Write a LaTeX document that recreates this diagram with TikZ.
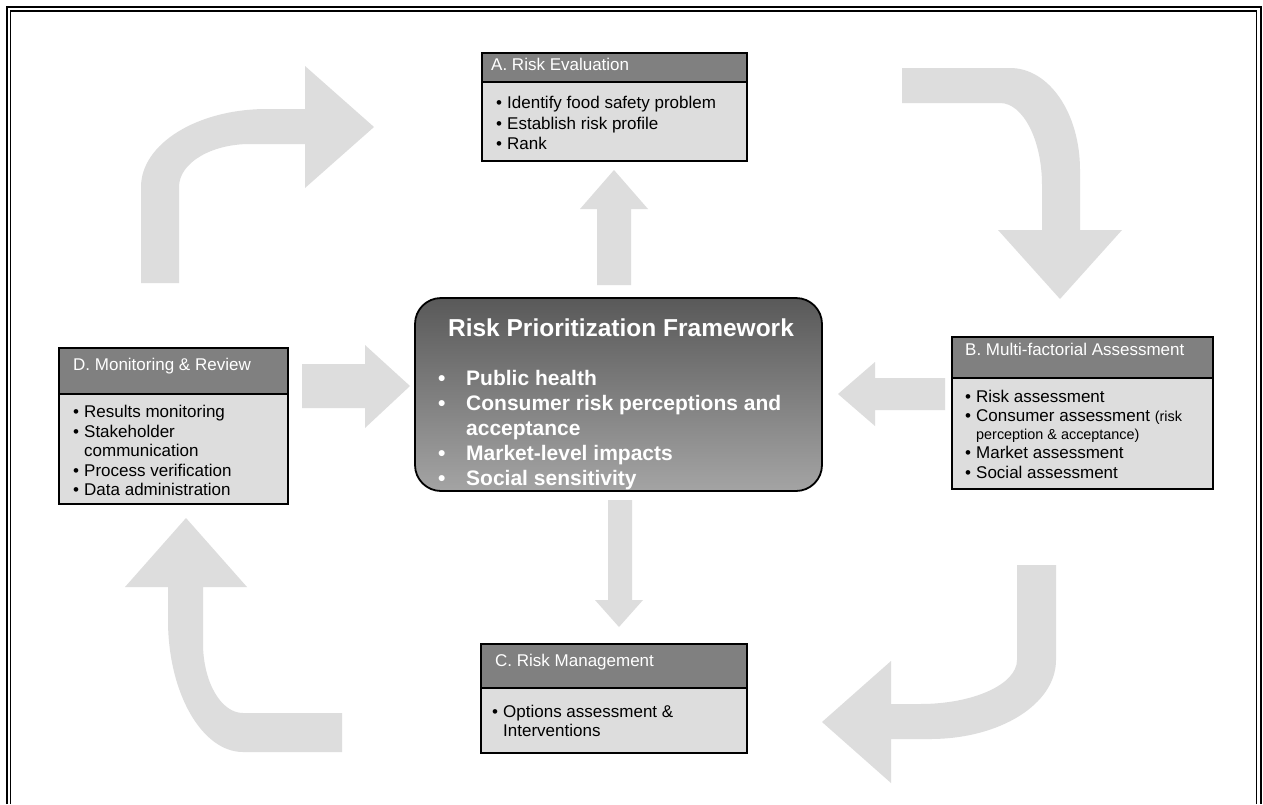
\documentclass[tikz,border=0pt]{standalone}
\usepackage{fontspec}
\setmainfont{Liberation Sans}
\definecolor{arrowgray}{HTML}{DDDDDD}
\definecolor{bodygray}{HTML}{DDDDDD}
\definecolor{titlegray}{HTML}{808080}
\definecolor{topshade}{HTML}{595959}
\definecolor{botshade}{HTML}{A4A4A4}
\begin{document}
\begin{tikzpicture}[x=1pt,y=-1pt,
  blockarrow/.style={fill=arrowgray, draw=none},
  bodybox/.style={fill=bodygray, draw=black, line width=1.6pt, inner sep=0pt, anchor=north west},
  titlebar/.style={fill=titlegray, draw=black, line width=1.6pt, inner sep=0pt, anchor=north west},
  ttl/.style={anchor=base west, inner sep=0pt, text=white, font=\fontsize{17}{20}\selectfont},
  itm/.style={anchor=base west, inner sep=0pt, font=\fontsize{17}{20}\selectfont},
  citm/.style={anchor=base west, inner sep=0pt, text=white, font=\bfseries\fontsize{21}{25}\selectfont},
]
\useasboundingbox (0,0) rectangle (1263,804);
\fill[white] (0,0) rectangle (1263,804);

% page frame
\draw[line width=2pt] (6.8,804) -- (6.8,7.3) -- (1260.5,7.3) -- (1260.5,804);
\draw[line width=1.1pt] (10.2,804) -- (10.2,11) -- (1256.8,11) -- (1256.8,804);

% curved block arrows
\path[blockarrow] (141,283) -- (141,187)
  .. controls (141,144) and (197,109) .. (267,109)
  -- (305,109) -- (305,66) -- (374,127) -- (305,188) -- (305,144) -- (250,144)
  .. controls (211,144) and (179,163) .. (179,187)
  -- (179,283) -- cycle;

\path[blockarrow] (902,68) -- (1010,68)
  .. controls (1049,68) and (1080,113) .. (1080,170)
  -- (1080,230) -- (1122,230) -- (1060,299) -- (998,230) -- (1042,230) -- (1042,185)
  .. controls (1042,140) and (1023,103) .. (1000,103)
  -- (902,103) -- cycle;

\path[blockarrow] (1017,565) -- (1056,565) -- (1056,660)
  .. controls (1056,704) and (1000,739) .. (930,739)
  -- (891,739) -- (891,783) -- (822,722) -- (891,661) -- (891,704) -- (920,704)
  .. controls (974,704) and (1017,684) .. (1017,660)
  -- cycle;

\path[blockarrow] (168,587) -- (168,620)
  .. controls (168,693) and (202,752) .. (243,752)
  -- (342,752) -- (342,713) -- (243,713)
  .. controls (221,713) and (203,682) .. (203,643)
  -- (203,587) -- (247,587) -- (186,518) -- (125,587) -- cycle;

% straight block arrows
\path[blockarrow] (597,285) -- (597,209) -- (580,209) -- (614,170) -- (648,209) -- (631,209) -- (631,285) -- cycle;
\path[blockarrow] (608,500) -- (632,500) -- (632,600) -- (643,600) -- (619,627) -- (595,600) -- (608,600) -- cycle;
\path[blockarrow] (945,378) -- (875,378) -- (875,362) -- (838,394) -- (875,426) -- (875,410) -- (945,410) -- cycle;
\path[blockarrow] (302,364) -- (365,364) -- (365,345) -- (410,386) -- (365,428) -- (365,408) -- (302,408) -- cycle;

% A box
\node[bodybox, minimum width=265pt, minimum height=108pt] (boxA) at (481,52) {};
\node[titlebar, minimum width=265pt, minimum height=29pt] (boxAt) at (481,52) {};
\node[ttl] (tA) at (491,70) {A. Risk Evaluation};
\node[itm] (a1) at (496,108) {\makebox[11pt][l]{•}Identify food safety problem};
\node[itm] (a2) at (496,129) {\makebox[11pt][l]{•}Establish risk profile};
\node[itm] (a3) at (496,149) {\makebox[11pt][l]{•}Rank};

% B box
\node[bodybox, minimum width=261pt, minimum height=152pt] (boxB) at (951,336) {};
\node[titlebar, minimum width=261pt, minimum height=41pt] (boxBt) at (951,336) {};
\node[ttl] (tB) at (965,355) {B. Multi-factorial Assessment};
\node[itm] (b1) at (965,402) {\makebox[11pt][l]{•}Risk assessment};
\node[itm] (b2) at (965,421) {\makebox[11pt][l]{•}Consumer assessment {\fontsize{14.4}{17}\selectfont(risk}};
\node[itm, font=\fontsize{14.4}{17}\selectfont] (b3) at (976,439) {perception \& acceptance)};
\node[itm] (b4) at (965,458) {\makebox[11pt][l]{•}Market assessment};
\node[itm] (b5) at (965,478) {\makebox[11pt][l]{•}Social assessment};

% D box
\node[bodybox, minimum width=229pt, minimum height=156pt] (boxD) at (58,347) {};
\node[titlebar, minimum width=229pt, minimum height=46pt] (boxDt) at (58,347) {};
\node[ttl] (tD) at (73,370) {D. Monitoring \& Review};
\node[itm] (d1) at (73,417) {\makebox[11pt][l]{•}Results monitoring};
\node[itm] (d2) at (73,437) {\makebox[11pt][l]{•}Stakeholder};
\node[itm] (d3) at (84,456) {communication};
\node[itm] (d4) at (73,476) {\makebox[11pt][l]{•}Process verification};
\node[itm] (d5) at (73,495) {\makebox[11pt][l]{•}Data administration};

% C box
\node[bodybox, minimum width=266pt, minimum height=109pt] (boxC) at (480,643) {};
\node[titlebar, minimum width=266pt, minimum height=44pt] (boxCt) at (480,643) {};
\node[ttl] (tC) at (495,666) {C. Risk Management};
\node[itm] (c1) at (492,717) {\makebox[11pt][l]{•}Options assessment \&};
\node[itm] (c2) at (503,736) {Interventions};

% central framework box
\node[draw=black, line width=1.8pt, rounded corners=26pt, top color=topshade, bottom color=botshade,
      minimum width=407pt, minimum height=193pt, inner sep=0pt] (core) at (618.5,394.5) {};
\node[anchor=base, inner sep=0pt, text=white, font=\bfseries\fontsize{24.5}{28}\selectfont] (coreT) at (621,336) {Risk Prioritization Framework};
\node[citm] (k1) at (438,385) {\makebox[28pt][l]{•}Public health};
\node[citm] (k2) at (438,410) {\makebox[28pt][l]{•}Consumer risk perceptions and};
\node[citm] (k3) at (466,435) {acceptance};
\node[citm] (k4) at (438,460) {\makebox[28pt][l]{•}Market-level impacts};
\node[citm] (k5) at (438,485) {\makebox[28pt][l]{•}Social sensitivity};
\end{tikzpicture}
\end{document}
